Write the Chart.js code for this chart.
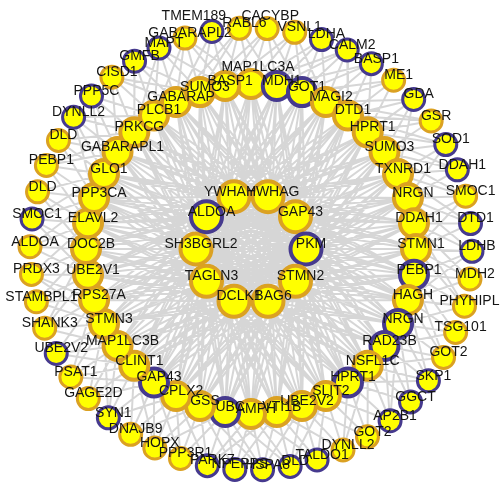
<!DOCTYPE html>
<html>
<head>
<meta charset="utf-8">
<script src="https://cdn.jsdelivr.net/npm/chart.js@4.4.0/dist/chart.umd.min.js"></script>
<style>
  html, body { margin: 0; padding: 0; background: #fff; }
  #wrap { width: 503px; height: 488px; }
</style>
</head>
<body>
<div id="wrap"><canvas id="net"></canvas></div>
<script>
// ring members, clockwise from the top
const innerNodes = ['YWHAH', 'YWHAG', 'GAP43', 'PKM', 'STMN2', 'BAG6', 'DCLK1', 'TAGLN3', 'SH3BGRL2', 'ALDOA'];
const middleNodes = ['MAP1LC3A', 'MDH1', 'GOT1', 'MAGI2', 'DTD1', 'HPRT1', 'SUMO3', 'TXNRD1', 'NRGN', 'DDAH1',
    'STMN1', 'PEBP1', 'HAGH', 'NRGN', 'RAD23B', 'NSFL1C', 'HPRT1', 'SLIT2', 'UBE2V2', 'VTI1B',
    'AMPH', 'UBC', 'GSS', 'CPLX2', 'GAP43', 'CLINT1', 'MAP1LC3B', 'STMN3', 'RPS27A', 'UBE2V1',
    'DOC2B', 'ELAVL2', 'PPP3CA', 'GLO1', 'GABARAPL1', 'PRKCG', 'PLCB1', 'GABARAP', 'SUMO3', 'BASP1'];
const outerNodes = ['RABL6', 'CACYBP', 'VSNL1', 'LDHA', 'CALM2', 'BASP1', 'ME1', 'GDA', 'GSR', 'SOD1',
    'DDAH1', 'SMOC1', 'DTD1', 'LDHB', 'MDH2', 'PHYHIPL', 'TSG101', 'GOT2', 'SKP1', 'GGCT',
    'AP2B1', 'GOT2', 'DYNLL2', 'TALDO1', 'DLD', 'HSPA8', 'NPEPPS', 'PARK7', 'PPP3R1', 'HOPX',
    'DNAJB9', 'SYN1', 'GAGE2D', 'PSAT1', 'UBE2V2', 'SHANK3', 'STAMBPL1', 'PRDX3', 'ALDOA', 'SMOC1',
    'DLD', 'PEBP1', 'DLD', 'DYNLL2', 'PPP5C', 'CISD1', 'GMFB', 'MAPT', 'GABARAPL2', 'TMEM189'];

// indices of nodes drawn with the dark blue rim
const innerDark = [3, 9];
const middleDark = [1, 2, 11, 13, 14, 16, 21, 24];
const outerDark = [3, 4, 5, 7, 9, 10, 12, 13, 18, 19, 20, 23, 24, 25, 26, 27, 31, 34, 39, 43, 44, 46, 47, 49];

// outer node -> middle ring nodes it links to
const outerLinks = [
    [37, 38, 39, 0, 1], [38, 39, 0, 1, 2], [39, 0, 1, 2, 3], [0, 1, 2, 3], [0, 1, 2, 3, 4],
    [1, 2, 3, 4, 5], [2, 3, 4, 5], [3, 4, 5, 6, 7], [3, 4, 5, 6], [4, 5, 6, 7, 8],
    [5, 6, 7, 8], [6, 7, 8, 9, 10], [7, 8, 9, 10], [8, 9, 10, 11, 12], [9, 10, 11, 12],
    [9, 10, 11, 12, 13], [11, 12, 13, 14], [11, 12, 13, 14, 15], [12, 13, 14, 15, 16], [13, 14, 15, 16],
    [13, 14, 15, 16, 17], [15, 16, 17, 18], [15, 16, 17, 18, 19], [17, 18, 19, 20], [17, 18, 19, 20, 21],
    [18, 19, 20, 21, 22], [19, 20, 21, 22], [19, 20, 21, 22, 23], [21, 22, 23, 24], [21, 22, 23, 24, 25],
    [22, 23, 24, 25], [23, 24, 25, 26, 27], [24, 25, 26, 27], [24, 25, 26, 27, 28], [25, 26, 27, 28],
    [26, 27, 28, 29, 30], [27, 28, 29, 30], [27, 28, 29, 30, 31], [29, 30, 31, 32], [29, 30, 31, 32, 33],
    [30, 31, 32, 33], [31, 32, 33, 34, 35], [32, 33, 34, 35], [32, 33, 34, 35, 36], [33, 34, 35, 36],
    [34, 35, 36, 37, 38], [35, 36, 37, 38], [35, 36, 37, 38, 39], [36, 37, 38, 39, 0], [37, 38, 39, 0]
];

// layout of the three rings (pixel space)
const CX = 251, CY = 249;
const rings = {
    inner:  { names: innerNodes,  dark: innerDark,  radius: 55,  start: -108, r: 15.5, bw: 4 },
    middle: { names: middleNodes, dark: middleDark, radius: 165, start: -90,  r: 14,   bw: 4 },
    outer:  { names: outerNodes,  dark: outerDark,  radius: 221, start: -93,  r: 11,   bw: 3 }
};

const YELLOW = '#ffff00';
const GOLD = '#dba122';
const NAVY = '#463a8e';

function ringPoints(ring) {
    const step = 360 / ring.names.length;
    return ring.names.map((name, i) => {
        const a = (ring.start + i * step) * Math.PI / 180;
        return { x: CX + ring.radius * Math.cos(a), y: CY + ring.radius * Math.sin(a) };
    });
}

const pts = {};
Object.keys(rings).forEach(k => pts[k] = ringPoints(rings[k]));

// edges: every hub in the inner ring links to every middle node, outer nodes to their listed ones
const edgeData = [];
function addEdge(a, b) {
    edgeData.push({ x: a.x, y: a.y }, { x: b.x, y: b.y }, { x: NaN, y: NaN });
}
pts.inner.forEach(p => pts.middle.forEach(q => addEdge(p, q)));
outerLinks.forEach((list, i) => list.forEach(j => addEdge(pts.outer[i], pts.middle[j])));

function nodeDataset(key, order) {
    const ring = rings[key];
    return {
        type: 'scatter',
        label: key,
        data: pts[key],
        order: order,
        clip: false,
        pointRadius: ring.r,
        pointHoverRadius: ring.r,
        pointBorderWidth: ring.bw,
        pointBackgroundColor: YELLOW,
        pointBorderColor: ring.names.map((n, i) => ring.dark.includes(i) ? NAVY : GOLD)
    };
}

// small label shifts where the original moved a label off its node
const labelNudge = {
    'inner:0': [-9, 0],
    'middle:0': [2, -12],
    'outer:1': [-2, -7],
    'outer:49': [-23, -10]
};

const labelPlugin = {
    id: 'nodeLabels',
    afterDatasetsDraw(chart) {
        const ctx = chart.ctx;
        ctx.save();
        ctx.font = '14px "Liberation Sans", Arial, sans-serif';
        ctx.fillStyle = '#151515';
        ctx.textAlign = 'center';
        ctx.textBaseline = 'middle';
        chart.data.datasets.forEach((ds, di) => {
            const ring = rings[ds.label];
            if (!ring) return;
            chart.getDatasetMeta(di).data.forEach((el, i) => {
                const n = labelNudge[ds.label + ':' + i] || [0, 0];
                ctx.fillText(ring.names[i], el.x + 5 + n[0], el.y - 5 + n[1]);
            });
        });
        ctx.restore();
    }
};

new Chart(document.getElementById('net'), {
    type: 'scatter',
    data: {
        datasets: [
            nodeDataset('inner', 0),
            nodeDataset('middle', 1),
            nodeDataset('outer', 2),
            {
                type: 'line',
                label: 'edges',
                data: edgeData,
                order: 5,
                clip: false,
                borderColor: 'rgba(204, 204, 204, 0.8)',
                borderWidth: 2,
                pointRadius: 0,
                spanGaps: false,
                tension: 0
            }
        ]
    },
    options: {
        responsive: true,
        maintainAspectRatio: false,
        animation: false,
        layout: { padding: 0, autoPadding: false },
        plugins: { legend: { display: false }, tooltip: { enabled: false } },
        scales: {
            x: { type: 'linear', min: 0, max: 503, display: false },
            y: { type: 'linear', min: 0, max: 488, reverse: true, display: false }
        }
    },
    plugins: [labelPlugin]
});
</script>
</body>
</html>
